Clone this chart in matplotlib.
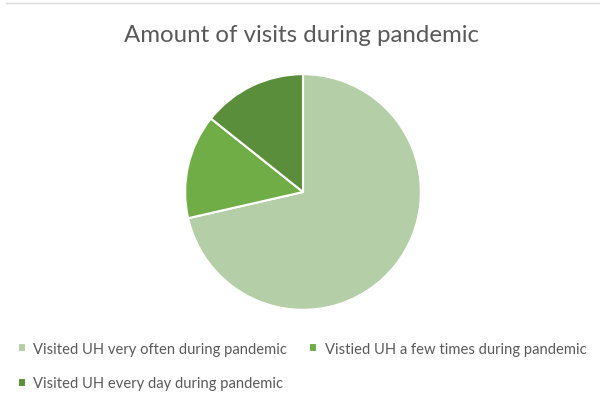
import matplotlib
matplotlib.use("Agg")
import matplotlib.pyplot as plt
from matplotlib.lines import Line2D

categories = ["Visited UH very often during pandemic",
              "Vistied UH a few times during pandemic",
              "Visited UH every day during pandemic"]
values = [5, 1, 1]
colors = ["#B4CEA8", "#70AD47", "#5A8E3A"]
title = "Amount of visits during pandemic"

W, H = 600, 402
fig = plt.figure(figsize=(W / 100, H / 100), dpi=100)
fig.patch.set_facecolor("white")

cx, cy, r = 303, 193, 119
ax = fig.add_axes([(cx - r) / W, (H - cy - r) / H, 2 * r / W, 2 * r / H])
wedges, _ = ax.pie(values, colors=colors, startangle=90, counterclock=False,
                   radius=1, wedgeprops=dict(edgecolor="white", linewidth=1.5))
ax.set_xlim(-1.01, 1.01)
ax.set_ylim(-1.01, 1.01)
ax.set_aspect("equal")
ax.axis("off")

fig.text(302 / W, 1 - 36 / H, title, ha="center", va="center",
         fontsize=17.3, color="#595959", family="Lato")

# faint top border line
fig.add_artist(Line2D([6 / W, 1], [1 - 4 / H, 1 - 4 / H], color="#D9D9D9", lw=1))

handles = [wedges[0], wedges[2], wedges[1]]
labels = [categories[0], categories[2], categories[1]]
leg = fig.legend(handles, labels, ncol=2, loc="upper left",
                 bbox_to_anchor=(12 / W, 1 - 337 / H), frameon=False,
                 prop=dict(family="Lato", size=10.6), labelcolor="#595959",
                 handlelength=0.55, handleheight=0.55, handletextpad=0.5,
                 columnspacing=1.5, labelspacing=1.4, borderaxespad=0)

fig.savefig("out.png", dpi=100, facecolor="white")
